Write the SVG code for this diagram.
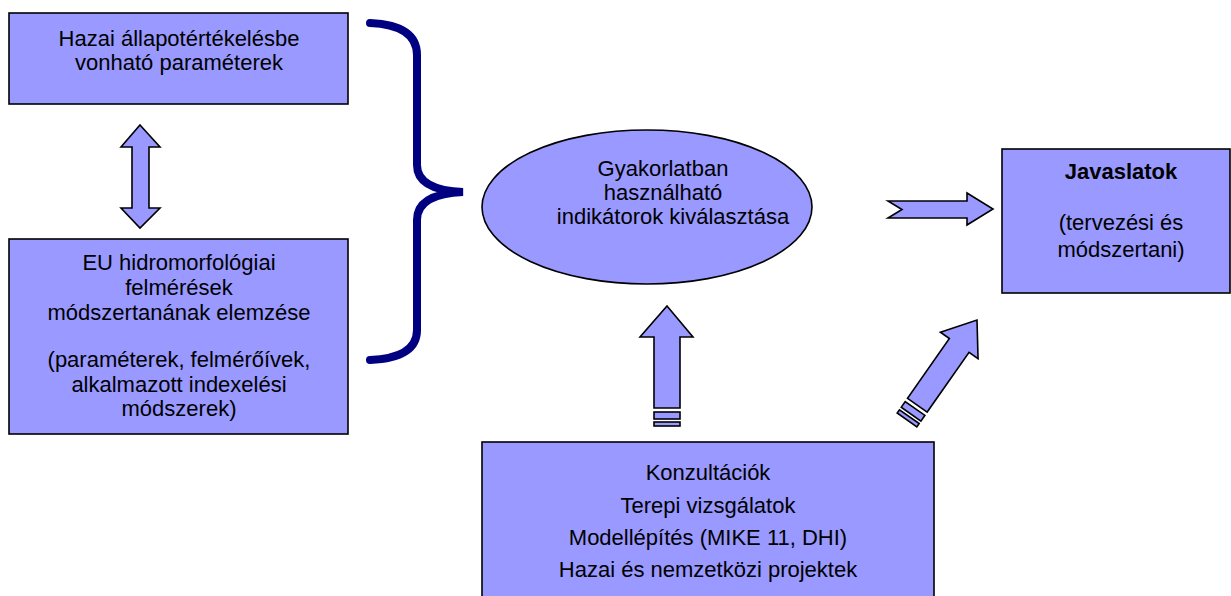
<svg xmlns="http://www.w3.org/2000/svg" width="1231" height="596" viewBox="0 0 1231 596">
<style>
.box{fill:#9999FF;stroke:#000;stroke-width:1.6}
.arr{fill:#9999FF;stroke:#000;stroke-width:1.6;stroke-linejoin:miter}
.t{font-family:"Liberation Sans",Arial,sans-serif;font-size:22px;fill:#000;text-anchor:middle}
.b{font-weight:bold}
.brace{fill:none;stroke:#000080;stroke-width:8;stroke-linecap:round}
</style>
<rect width="1231" height="596" fill="#fff"/>
<g id="node-hazai">
<rect class="box" x="9" y="13" width="339" height="91"/>
<text class="t" x="179" y="46">Hazai állapotértékelésbe</text>
<text class="t" x="179" y="70">vonható paraméterek</text>
</g>
<g id="node-eu">
<rect class="box" x="9" y="239" width="339" height="195"/>
<text class="t" x="179" y="270">EU hidromorfológiai</text>
<text class="t" x="179" y="295">felmérések</text>
<text class="t" x="179" y="320">módszertanának elemzése</text>
<text class="t" x="179" y="367">(paraméterek, felmérőívek,</text>
<text class="t" x="179" y="392">alkalmazott indexelési</text>
<text class="t" x="179" y="416">módszerek)</text>
</g>
<g id="node-indikator">
<ellipse class="box" cx="647" cy="207" rx="165" ry="77"/>
<text class="t" x="663" y="176">Gyakorlatban</text>
<text class="t" x="663" y="200">használható</text>
<text class="t" x="673" y="224">indikátorok kiválasztása</text>
</g>
<g id="node-javaslatok">
<rect class="box" x="1002" y="149" width="228" height="144"/>
<text class="t b" x="1121" y="179">Javaslatok</text>
<text class="t" x="1121" y="230">(tervezési és</text>
<text class="t" x="1121" y="257">módszertani)</text>
</g>
<g id="node-konzultaciok">
<rect class="box" x="482" y="442" width="452" height="160"/>
<text class="t" x="708" y="480">Konzultációk</text>
<text class="t" x="708" y="513">Terepi vizsgálatok</text>
<text class="t" x="708" y="545">Modellépítés (MIKE 11, DHI)</text>
<text class="t" x="708" y="577">Hazai és nemzetközi projektek</text>
</g>
<g id="connectors">
<path class="arr" d="M140,125 L160,147 L149,147 L149,208 L160,208 L140,228 L121,208 L132,208 L132,147 L121,147 Z"/>
<path class="brace" d="M370,23 Q417,25 417,55 L417,165 Q417,190 463,192 Q417,194 417,220 L417,330 Q417,358 370,360"/>
<path class="arr" d="M888,201 L967,201 L967,193 L993,209 L967,225 L967,218 L888,218 L902,209.5 Z"/>
<g>
<path class="arr" d="M667,306 L693,337 L680,337 L680,408 L654,408 L654,337 L640,337 Z"/>
<rect class="arr" x="654" y="412" width="26" height="7"/>
<rect class="arr" x="654" y="422" width="26" height="4"/>
</g>
<g transform="translate(977,320) rotate(35)">
<path class="arr" d="M0,0 L23,31 L12,31 L12,104 L-12,104 L-12,31 L-23,31 Z"/>
<rect class="arr" x="-12" y="108" width="24" height="7"/>
<rect class="arr" x="-12" y="118" width="24" height="4"/>
</g>
</g>
</svg>
